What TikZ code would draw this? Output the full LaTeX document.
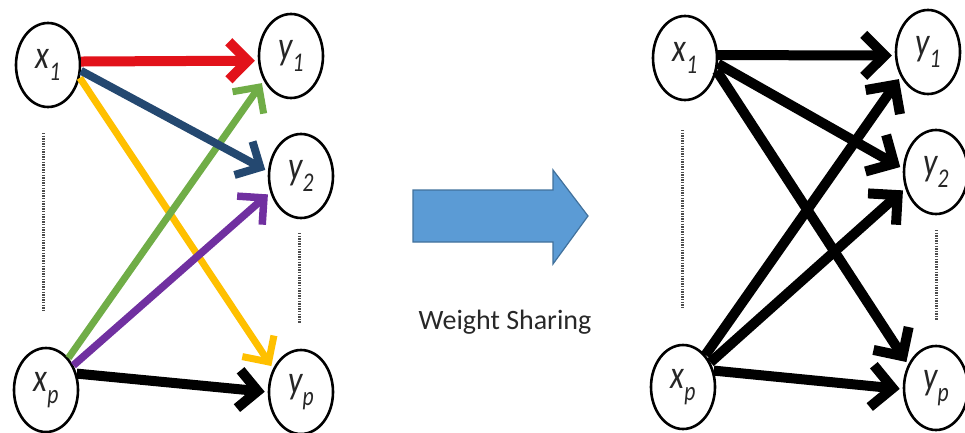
\documentclass[tikz,border=0pt]{standalone}
\usepackage{fontspec}
\setmainfont{Carlito}
\usetikzlibrary{shapes.geometric,arrows.meta}

\definecolor{redarr}{RGB}{226,18,26}
\definecolor{bluearr}{RGB}{36,72,112}
\definecolor{yellowarr}{RGB}{255,192,0}
\definecolor{greenarr}{RGB}{112,173,71}
\definecolor{purplearr}{RGB}{112,48,160}
\definecolor{blockfill}{RGB}{91,155,213}
\definecolor{blockline}{RGB}{65,113,156}
\definecolor{captext}{RGB}{40,40,40}

% italic variable with an italic subscript, slightly condensed
\newcommand{\varlbl}[2]{\scalebox{0.8}[1]{\itshape #1\raisebox{-0.6ex}{\fontsize{27}{27}\selectfont #2}}}

\begin{document}
\begin{tikzpicture}[x=1pt,y=-1pt,
  unit/.style={ellipse, draw, line width=2.6pt, minimum width=64pt, minimum height=84pt,
               inner sep=0pt, font=\fontsize{40}{40}\selectfont, text=black!85},
  link/.style={line width=#1, -{Straight Barb[length=19pt,width=38pt]}, shorten >=3pt},
  link/.default=7pt,
  heavy/.style={line width=10pt, black, -{Straight Barb[length=21pt,width=42pt]}, shorten >=3pt},
  dotcol/.style={line width=3pt, black!70, dash pattern=on 1.4pt off 1.2pt}]

\useasboundingbox (0,0) rectangle (965,433);

% ---------- left: one weight per connection ----------
\node[unit] (x1) at (48,65) {\varlbl{x}{1}};
\node[unit] (xp) at (46,390) {\varlbl{x}{p}};
\node[unit] (y1) at (291,56) {\varlbl{y}{1}};
\node[unit] (y2) at (301,176) {\varlbl{y}{2}};
\node[unit] (yp) at (301,392) {\varlbl{y}{p}};

\coordinate (ldA) at (43,133);
\coordinate (ldB) at (43,310);
\coordinate (rdA) at (299,233);
\coordinate (rdB) at (299,323);
\draw[dotcol] (ldA) -- (ldB);
\draw[dotcol] (rdA) -- (rdB);

\draw[link=7pt, yellowarr] (x1.-22) -- (yp.140);
\draw[link=7pt, greenarr] (xp.55) -- (y1.222);
\draw[link=7.5pt, purplearr] (xp.42) -- (y2.208);
\draw[link=8pt, bluearr] (x1.-10) -- (y2.172);
\draw[link=10pt, redarr] (x1.6) -- (y1.188);
\draw[link=10pt, black] (xp.28) -- (yp.180);

% ---------- middle: block arrow and caption ----------
\fill[blockfill, draw=blockline, line width=1.2pt]
  (413,190) -- (553,190) -- (553,170) -- (588,216) -- (553,264) -- (553,242) -- (413,242) -- cycle;
\node[font=\fontsize{28}{28}\selectfont, text=captext] (cap) at (505,322) {Weight Sharing};

% ---------- right: shared weights ----------
\node[unit] (rx1) at (685,58) {\varlbl{x}{1}};
\node[unit] (rxp) at (683,387) {\varlbl{x}{p}};
\node[unit] (ry1) at (928,52) {\varlbl{y}{1}};
\node[unit] (ry2) at (936,172) {\varlbl{y}{2}};
\node[unit] (ryp) at (936,388) {\varlbl{y}{p}};

\coordinate (rldA) at (682,130);
\coordinate (rldB) at (682,307);
\coordinate (rrdA) at (936,230);
\coordinate (rrdB) at (936,320);
\draw[dotcol] (rldA) -- (rldB);
\draw[dotcol] (rrdA) -- (rrdB);

\draw[heavy] (rx1.5) -- (ry1.186);
\draw[heavy] (rx1.-10) -- (ry2.174);
\draw[heavy] (rx1.-22) -- (ryp.140);
\draw[heavy] (rxp.55) -- (ry1.222);
\draw[heavy] (rxp.42) -- (ry2.208);
\draw[heavy] (rxp.28) -- (ryp.182);
\end{tikzpicture}
\end{document}
